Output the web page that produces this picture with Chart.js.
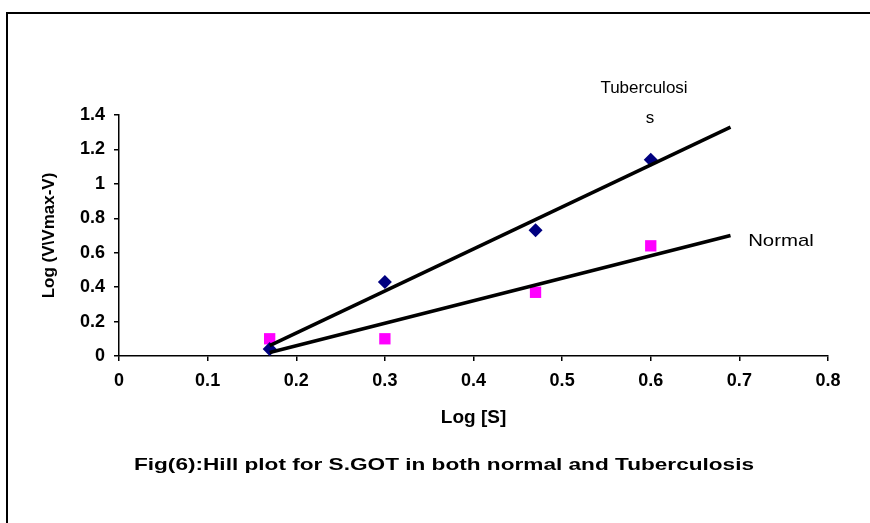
<!DOCTYPE html>
<html>
<head>
<meta charset="utf-8">
<script src="https://cdn.jsdelivr.net/npm/chart.js@4"></script>
<style>
  html, body { margin: 0; padding: 0; background: #fff; }
  #wrap { position: relative; width: 870px; height: 523px; overflow: hidden; }
  #frame { position: absolute; left: 6px; top: 12px; width: 900px; height: 560px;
           border-top: 2px solid #000; border-left: 2px solid #000; }
  #chart { position: absolute; left: 0; top: 0; }
</style>
</head>
<body>
<div id="wrap">
  <div id="frame"></div>
  <canvas id="chart" width="870" height="523"></canvas>
</div>
<script>
// Log [S] values and Log(V\Vmax-V)
const logS = [0.17, 0.30, 0.47, 0.60];
const tuberculosis = [0.04, 0.43, 0.73, 1.14];
const normal = [0.10, 0.10, 0.37, 0.64];

// trend line end points as drawn in the figure
const trendX = [0.17, 0.69];
const tuberculosisTrend = [0.06, 1.33];
const normalTrend = [0.02, 0.70];

const toPoints = (xs, ys) => xs.map((x, i) => ({ x: x, y: ys[i] }));

// caption and series labels
const labelPlugin = {
    id: 'labels',
    afterDraw(chart) {
        const ctx = chart.ctx;
        ctx.save();
        ctx.fillStyle = '#000';
        ctx.textAlign = 'center';
        ctx.textBaseline = 'middle';

        ctx.font = '17px "Liberation Sans", Arial, sans-serif';
        ctx.fillText('Tuberculosi', 644, 88);
        ctx.fillText('s', 650, 118);

        ctx.save();
        ctx.translate(781, 241);
        ctx.scale(1.2, 1);
        ctx.fillText('Normal', 0, 0);
        ctx.restore();

        ctx.save();
        ctx.translate(444, 465);
        ctx.scale(1.33, 1);
        ctx.font = 'bold 17px "Liberation Sans", Arial, sans-serif';
        ctx.fillText('Fig(6):Hill plot for S.GOT in both normal and Tuberculosis', 0, 0);
        ctx.restore();

        ctx.restore();
    }
};

const tickFont = { family: '"Liberation Sans", Arial, sans-serif', size: 18, weight: 'bold' };
const titleFont = { family: '"Liberation Sans", Arial, sans-serif', size: 17, weight: 'bold' };
const fmt = v => String(Number(v.toFixed(2)));

new Chart(document.getElementById('chart'), {
    type: 'scatter',
    data: {
        datasets: [
            {
                label: 'Tuberculosis trend',
                data: toPoints(trendX, tuberculosisTrend),
                showLine: true,
                borderColor: '#000',
                borderWidth: 3.5,
                pointRadius: 0
            },
            {
                label: 'Normal trend',
                data: toPoints(trendX, normalTrend),
                showLine: true,
                borderColor: '#000',
                borderWidth: 3.5,
                pointRadius: 0
            },
            {
                label: 'Tuberculosis',
                data: toPoints(logS, tuberculosis),
                pointStyle: 'rectRot',
                pointRadius: 7,
                backgroundColor: '#000080',
                borderColor: '#000080',
                borderWidth: 0
            },
            {
                label: 'Normal',
                data: toPoints(logS, normal),
                pointStyle: 'rect',
                pointRadius: 8,
                backgroundColor: '#ff00ff',
                borderColor: '#ff00ff',
                borderWidth: 0
            }
        ]
    },
    options: {
        responsive: false,
        animation: false,
        layout: { padding: { left: 0, top: 115, right: 42, bottom: 87 } },
        plugins: {
            legend: { display: false },
            tooltip: { enabled: false }
        },
        scales: {
            x: {
                type: 'linear',
                min: 0,
                max: 0.8,
                afterFit: s => { s.height = 80; },
                ticks: { stepSize: 0.1, color: '#000', font: tickFont, padding: 9, maxRotation: 0, callback: fmt },
                grid: { drawOnChartArea: false, tickLength: 5, color: '#000', lineWidth: 1.5 },
                border: { color: '#000', width: 1.5 },
                title: { display: true, text: 'Log [S]', color: '#000', font: { ...titleFont, size: 19 }, padding: { top: 0, bottom: 7 } }
            },
            y: {
                min: 0,
                max: 1.4,
                afterFit: s => { s.width = 119; },
                ticks: { stepSize: 0.2, color: '#000', font: tickFont, padding: 9, callback: fmt },
                grid: { drawOnChartArea: false, tickLength: 5, color: '#000', lineWidth: 1.5 },
                border: { color: '#000', width: 1.5 },
                title: { display: true, text: 'Log (V\\Vmax-V)', color: '#000', font: titleFont, padding: { top: 39, bottom: 0 } }
            }
        }
    },
    plugins: [labelPlugin]
});
</script>
</body>
</html>
